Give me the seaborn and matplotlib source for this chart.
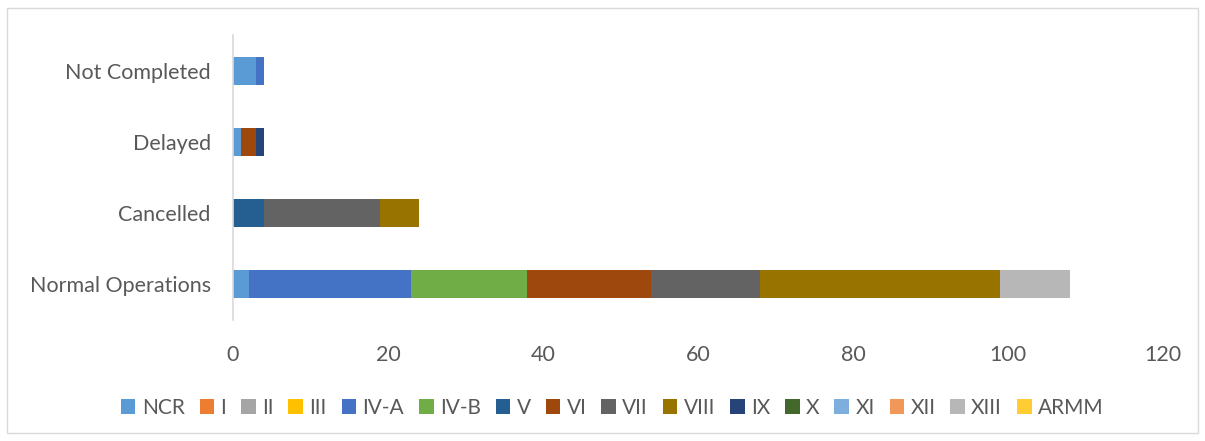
import numpy as np
import pandas as pd
import seaborn as sns
import matplotlib.pyplot as plt
from matplotlib.patches import Patch, Rectangle

# Categories (top to bottom as shown)
statuses = ["Not Completed", "Delayed", "Cancelled", "Normal Operations"]
regions = ["NCR", "I", "II", "III", "IV-A", "IV-B", "V", "VI", "VII",
           "VIII", "IX", "X", "XI", "XII", "XIII", "ARMM"]
colors = ["#5B9BD5", "#ED7D31", "#A5A5A5", "#FFC000", "#4472C4", "#70AD47",
          "#255E91", "#9E480E", "#636363", "#997300", "#264478", "#43682B",
          "#7CAFDD", "#F1975A", "#B7B7B7", "#FFCD33"]

# counts per region, in the order of statuses
ncr = [3, 1, 0, 2]
r_iva = [1, 0, 0, 21]
r_ivb = [0, 0, 0, 15]
r_v = [0, 0, 4, 0]
r_vi = [0, 2, 0, 16]
r_vii = [0, 0, 15, 14]
r_viii = [0, 0, 5, 31]
r_ix = [0, 1, 0, 0]
r_xiii = [0, 0, 0, 9]
zeros = [0, 0, 0, 0]

values = {
    "NCR": ncr, "I": zeros, "II": zeros, "III": zeros, "IV-A": r_iva,
    "IV-B": r_ivb, "V": r_v, "VI": r_vi, "VII": r_vii, "VIII": r_viii,
    "IX": r_ix, "X": zeros, "XI": zeros, "XII": zeros, "XIII": r_xiii,
    "ARMM": zeros,
}

df = pd.DataFrame(values, index=statuses)
cum = df.cumsum(axis=1)

sns.set_theme(style="white")
plt.rcParams["font.family"] = ["Lato", "DejaVu Sans"]

fig, ax = plt.subplots(figsize=(12.05, 4.41), dpi=100)
fig.subplots_adjust(left=0.1934, right=0.965, top=0.92, bottom=0.275)

# draw cumulative totals back to front so each segment shows its own colour
for reg, col in reversed(list(zip(regions, colors))):
    d = pd.DataFrame({"status": statuses, "total": cum[reg].values})
    sns.barplot(data=d, x="total", y="status", order=statuses, color=col,
                width=0.4, orient="h", ax=ax, saturation=1, linewidth=0)

ax.set_xlim(0, 120)
ax.set_xticks(np.arange(0, 121, 20))
ax.set_xlabel("")
ax.set_ylabel("")
ax.tick_params(axis="both", length=0, labelsize=15.5, colors="#595959")
ax.tick_params(axis="x", pad=18)
ax.tick_params(axis="y", pad=16)
for s in ["top", "right", "bottom"]:
    ax.spines[s].set_visible(False)
ax.spines["left"].set_color("#D9D9D9")
ax.spines["left"].set_linewidth(1.2)

handles = [Patch(facecolor=c, edgecolor="none") for c in colors]
fig.legend(handles, regions, loc="lower center", ncol=16, frameon=False,
           bbox_to_anchor=(0.508, 0.01), fontsize=15, handlelength=0.7,
           handleheight=0.7, handletextpad=0.3, columnspacing=0.72,
           labelcolor="#595959")

fig.patches.append(Rectangle((0.006, 0.018), 0.988, 0.964, transform=fig.transFigure,
                             fill=False, edgecolor="#D9D9D9", linewidth=1))

fig.savefig("out.png", dpi=100, facecolor="white")
